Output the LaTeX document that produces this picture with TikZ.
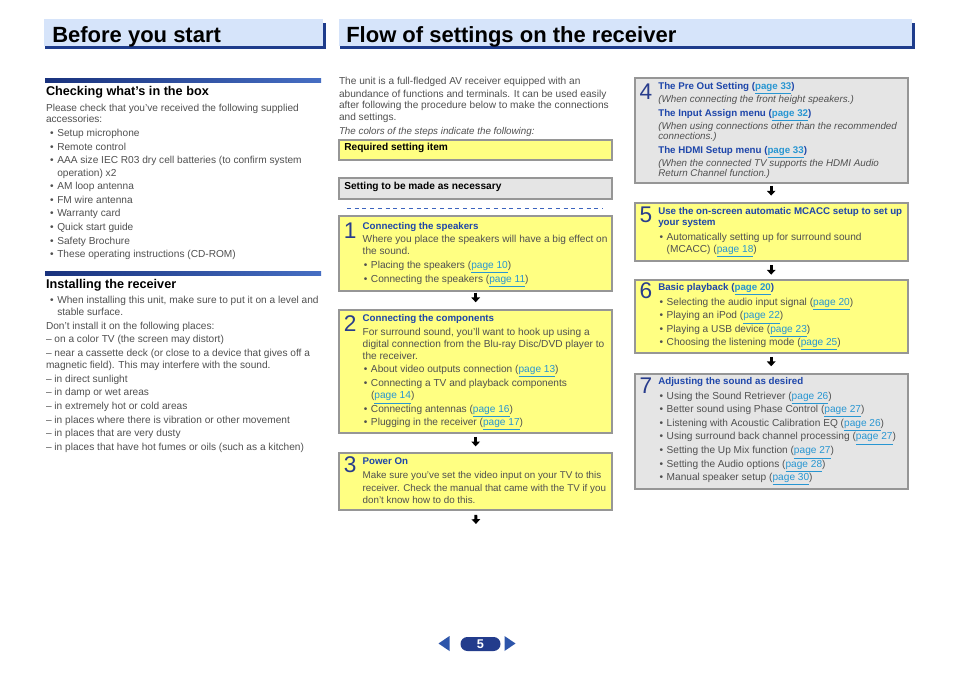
\documentclass[tikz,border=0pt]{standalone}
\usepackage{fontspec}
\setmainfont{Liberation Sans}
\usetikzlibrary{arrows.meta}
\definecolor{hdrfill}{RGB}{214,228,250}
\definecolor{hdrshadow}{RGB}{30,60,140}
\definecolor{rulea}{RGB}{25,50,125}
\definecolor{ruleb}{RGB}{70,110,195}
\definecolor{bodygray}{RGB}{80,80,80}
\definecolor{titleblue}{RGB}{30,70,170}
\definecolor{numblue}{RGB}{40,60,140}
\definecolor{linkc}{RGB}{40,150,210}
\definecolor{yfill}{RGB}{255,255,130}
\definecolor{gfill}{RGB}{229,229,229}
\definecolor{boxborder}{RGB}{150,150,150}
\definecolor{dashblue}{RGB}{60,100,190}
\definecolor{navy}{RGB}{35,60,140}
\definecolor{navtri}{RGB}{45,85,170}
\newcommand\lk[1]{\textcolor{linkc}{\underline{#1}}}
\newcommand\bul{\llap{\textbullet\hspace{2.7pt}}}
\newcommand\tx[5][txt]{\node[#1] (#2) at (#3,#4+3.8) {#5};}
\begin{document}
\begin{tikzpicture}[x=0.75pt,y=-0.75pt,
  txt/.style={anchor=base west, inner sep=0pt, outer sep=0pt, font=\fontsize{7.6pt}{9pt}\selectfont, text=bodygray},
  stxt/.style={txt, font=\fontsize{7.35pt}{9pt}\selectfont},
  itl/.style={txt, font=\fontsize{7.35pt}{9pt}\selectfont\itshape},
  ttl/.style={txt, font=\fontsize{7.3pt}{9pt}\selectfont\bfseries, text=titleblue},
  bh/.style={txt, font=\fontsize{7.6pt}{9pt}\selectfont\bfseries, text=black},
  lh/.style={txt, font=\fontsize{9.5pt}{11pt}\selectfont\bfseries, text=black},
  hdr/.style={anchor=base west, inner sep=0pt, font=\fontsize{16.5pt}{18pt}\selectfont\bfseries, text=black},
  num/.style={anchor=base west, inner sep=0pt, font=\fontsize{17pt}{17pt}\selectfont, text=numblue},
  box/.style={draw=boxborder, line width=1.5pt, inner sep=0pt, outer sep=0pt, anchor=north west},
  ybox/.style={box, fill=yfill},
  gbox/.style={box, fill=gfill},
  flowarr/.style={line width=2.2pt, black, -{Triangle[width=6.4pt,length=3.6pt]}},
  pill/.style={fill=navy, text=white, rounded corners=5.2pt, minimum width=30pt, minimum height=10.5pt, inner sep=0pt, font=\fontsize{9.5pt}{9.5pt}\selectfont\bfseries}
]
\useasboundingbox (0,0) rectangle (954,674);
\fill[white] (0,0) rectangle (954,674);

% ---------- headers
\fill[hdrshadow] (45,23) rectangle (326,49.5);
\fill[hdrfill] (44,19.5) rectangle (322.7,46.5);
\node[hdr] (h1) at (52,42.3) {Before you start};
\fill[hdrshadow] (340,23) rectangle (915,49.5);
\fill[hdrfill] (339,19.5) rectangle (911.5,46.5);
\node[hdr] (h2) at (346,42.3) {Flow of settings on the receiver};

% ---------- left column
\shade[left color=rulea, right color=ruleb] (45,78.5) rectangle (321,83);
\tx[lh]{lh1}{46}{91.7}{Checking what’s in the box}
\tx{l1}{46}{107.7}{Please check that you’ve received the following supplied}
\tx{l2}{46}{119}{accessories:}
\tx{l3}{57.3}{132.7}{\bul Setup microphone}
\tx{l4}{57.3}{146.7}{\bul Remote control}
\tx{l5}{57.3}{159.3}{\bul AAA size IEC R03 dry cell batteries (to confirm system}
\tx{l6}{57.3}{172.3}{operation) x2}
\tx{l7}{57.3}{185.7}{\bul AM loop antenna}
\tx{l8}{57.3}{199.3}{\bul FM wire antenna}
\tx{l9}{57.3}{212.7}{\bul Warranty card}
\tx{l10}{57.3}{226.7}{\bul Quick start guide}
\tx{l11}{57.3}{240.7}{\bul Safety Brochure}
\tx{l12}{57.3}{254}{\bul These operating instructions (CD-ROM)}

\shade[left color=rulea, right color=ruleb] (45,271) rectangle (321,275.5);
\tx[lh]{lh2}{46}{285}{Installing the receiver}
\tx{k1}{57.3}{299.3}{\bul When installing this unit, make sure to put it on a level and}
\tx{k2}{57.3}{311.7}{stable surface.}
\tx{k3}{46}{325.7}{Don’t install it on the following places:}
\tx{k4}{46}{339}{– on a color TV (the screen may distort)}
\tx{k5}{46}{352.3}{– near a cassette deck (or close to a device that gives off a}
\tx{k6}{46}{365}{magnetic field). This may interfere with the sound.}
\tx{k7}{46}{378.3}{– in direct sunlight}
\tx{k8}{46}{391.7}{– in damp or wet areas}
\tx{k9}{46}{405.7}{– in extremely hot or cold areas}
\tx{k10}{46}{419.3}{– in places where there is vibration or other movement}
\tx{k11}{46}{432.3}{– in places that are very dusty}
\tx{k12}{46}{446.7}{– in places that have hot fumes or oils (such as a kitchen)}

% ---------- middle column
\tx{m1}{339}{81}{The unit is a full-fledged AV receiver equipped with an}
\tx{m2}{339}{93.3}{abundance of functions and terminals. It can be used easily}
\tx{m3}{339}{104.7}{after following the procedure below to make the connections}
\tx{m4}{339}{116.3}{and settings.}
\tx[itl]{m5}{339}{131}{The colors of the steps indicate the following:}

\node[ybox, minimum width=205pt, minimum height=15pt] (req) at (339,140) {};
\tx[bh]{reqt}{344.3}{147.2}{Required setting item}
\node[gbox, minimum width=205pt, minimum height=15.5pt] (opt) at (339,178.3) {};
\tx[bh]{optt}{344.3}{186.2}{Setting to be made as necessary}

\coordinate (d1) at (347,208);
\coordinate (d2) at (603,208);
\draw[dashblue, line width=0.75pt, dash pattern=on 3pt off 2.8pt] (d1) -- (d2);

% step boxes
\node[ybox, minimum width=205pt, minimum height=55.65pt] (b1) at (339,216.3) {};
\node[ybox, minimum width=205pt, minimum height=92.6pt] (b2) at (339,310) {};
\node[ybox, minimum width=205pt, minimum height=42.75pt] (b3) at (339,453.3) {};
\node[gbox, minimum width=204.75pt, minimum height=78.75pt] (b4) at (634.7,78.3) {};
\node[ybox, minimum width=204.75pt, minimum height=42.9pt] (b5) at (634.7,203.3) {};
\node[ybox, minimum width=204.75pt, minimum height=55.1pt] (b6) at (634.7,280) {};
\node[gbox, minimum width=204.75pt, minimum height=85.9pt] (b7) at (634.7,374) {};

% step 1
\node[num] (n1) at (343.5,238.5) {1};
\tx[ttl]{s1t}{362.7}{225.5}{Connecting the speakers}
\tx{s1a}{362.7}{239}{Where you place the speakers will have a big effect on}
\tx{s1b}{362.7}{251}{the sound.}
\tx{s1c}{371}{264.3}{\bul Placing the speakers (\lk{page 10})}
\tx{s1d}{371}{278.5}{\bul Connecting the speakers (\lk{page 11})}

% step 2
\node[num] (n2) at (343.5,331.5) {2};
\tx[ttl]{s2t}{362.7}{318}{Connecting the components}
\tx{s2a}{362.7}{331.7}{For surround sound, you’ll want to hook up using a}
\tx{s2b}{362.7}{344}{digital connection from the Blu-ray Disc/DVD player to}
\tx{s2c}{362.7}{356}{the receiver.}
\tx{s2d}{371}{368.3}{\bul About video outputs connection (\lk{page 13})}
\tx{s2e}{371}{382.3}{\bul Connecting a TV and playback components}
\tx{s2f}{371}{395}{(\lk{page 14})}
\tx{s2g}{371}{408.3}{\bul Connecting antennas (\lk{page 16})}
\tx{s2h}{371}{421.7}{\bul Plugging in the receiver (\lk{page 17})}

% step 3
\node[num] (n3) at (343.5,472.5) {3};
\tx[ttl]{s3t}{362.7}{460.3}{Power On}
\tx[stxt]{s3a}{362.7}{475}{Make sure you’ve set the video input on your TV to this}
\tx[stxt]{s3b}{362.7}{487.7}{receiver. Check the manual that came with the TV if you}
\tx[stxt]{s3c}{362.7}{499.3}{don’t know how to do this.}

% step 4
\node[num] (n4) at (639.3,99.5) {4};
\tx[ttl]{s4t}{658.3}{85.5}{The Pre Out Setting (\lk{page 33})}
\tx[itl]{s4a}{658.3}{99}{(When connecting the front height speakers.)}
\tx[ttl]{s4b}{658.3}{113}{The Input Assign menu (\lk{page 32})}
\tx[itl]{s4c}{658.3}{125.7}{(When using connections other than the recommended}
\tx[itl]{s4d}{658.3}{135.7}{connections.)}
\tx[ttl]{s4e}{658.3}{149.7}{The HDMI Setup menu (\lk{page 33})}
\tx[itl]{s4f}{658.3}{162.3}{(When the connected TV supports the HDMI Audio}
\tx[itl]{s4g}{658.3}{172.3}{Return Channel function.)}

% step 5
\node[num] (n5) at (639.3,222.5) {5};
\tx[ttl]{s5t}{658.3}{210.5}{Use the on-screen automatic MCACC setup to set up}
\tx[ttl]{s5u}{658.3}{222}{your system}
\tx{s5a}{666.7}{236.7}{\bul Automatically setting up for surround sound}
\tx{s5b}{666.7}{248.3}{(MCACC) (\lk{page 18})}

% step 6
\node[num] (n6) at (639.3,298.8) {6};
\tx[ttl]{s6t}{658.3}{287}{Basic playback (\lk{page 20})}
\tx{s6a}{666.7}{301.7}{\bul Selecting the audio input signal (\lk{page 20})}
\tx{s6b}{666.7}{315}{\bul Playing an iPod (\lk{page 22})}
\tx{s6c}{666.7}{328.3}{\bul Playing a USB device (\lk{page 23})}
\tx{s6d}{666.7}{341.7}{\bul Choosing the listening mode (\lk{page 25})}

% step 7
\node[num] (n7) at (639.3,393.8) {7};
\tx[ttl]{s7t}{658.3}{380.7}{Adjusting the sound as desired}
\tx{s7a}{666.7}{395.7}{\bul Using the Sound Retriever (\lk{page 26})}
\tx{s7b}{666.7}{408.3}{\bul Better sound using Phase Control (\lk{page 27})}
\tx{s7c}{666.7}{422.7}{\bul Listening with Acoustic Calibration EQ (\lk{page 26})}
\tx{s7d}{666.7}{436}{\bul Using surround back channel processing (\lk{page 27})}
\tx{s7e}{666.7}{450}{\bul Setting the Up Mix function (\lk{page 27})}
\tx{s7f}{666.7}{463.3}{\bul Setting the Audio options (\lk{page 28})}
\tx{s7g}{666.7}{476.7}{\bul Manual speaker setup (\lk{page 30})}

% ---------- flow arrows
\coordinate (endm) at (476,526);
\draw[flowarr, shorten <=1.6pt, shorten >=5.8pt] (b1.south) -- (b2.north);
\draw[flowarr, shorten <=2.6pt, shorten >=5.2pt] (b2.south) -- (b3.north);
\draw[flowarr, shorten <=3.4pt, shorten >=1.5pt] (b3.south) -- (endm);
\draw[flowarr, shorten <=2pt, shorten >=5.8pt] (b4.south) -- (b5.north);
\draw[flowarr, shorten <=3.6pt, shorten >=4pt] (b5.south) -- (b6.north);
\draw[flowarr, shorten <=2.5pt, shorten >=5.8pt] (b6.south) -- (b7.north);

% ---------- page navigation
\node[pill] (pg) at (480.5,644) {5};
\fill[navtri] (438.5,643.5) -- (449.5,636) -- (449.5,651) -- cycle;
\fill[navtri] (515.5,643.5) -- (504.5,636) -- (504.5,651) -- cycle;
\end{tikzpicture}
\end{document}
